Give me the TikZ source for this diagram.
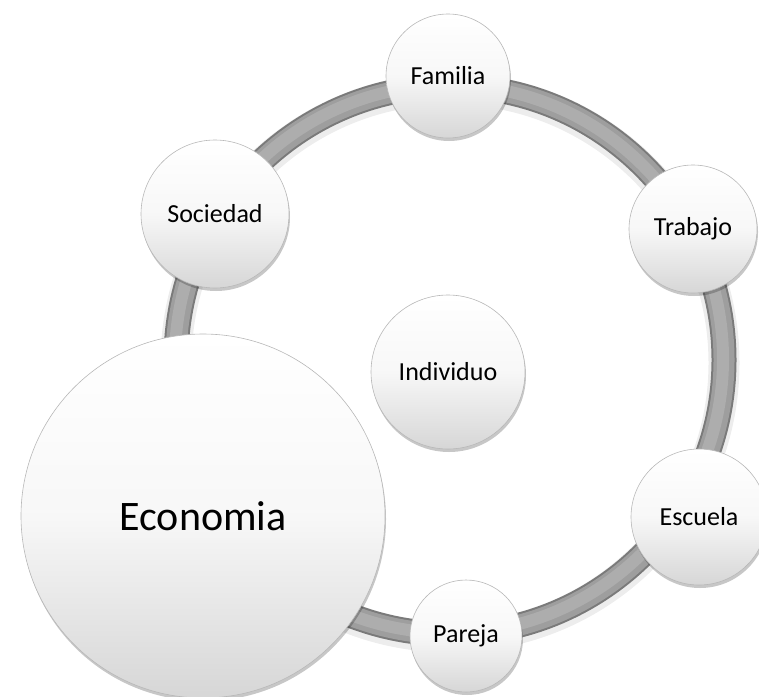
\documentclass[tikz,border=0pt]{standalone}
\usepackage{fontspec}
\setmainfont{Carlito}
\usepackage{tikz}
\usetikzlibrary{shadows}

\begin{document}
\begin{tikzpicture}[x=1pt, y=-1pt,
        bubble/.style={circle, inner sep=0pt, draw=black!28, line width=0.6pt,
            top color=white, bottom color=black!16, middle color=black!3,
            drop shadow={shadow xshift=1pt, shadow yshift=-3pt, opacity=0.22, fill=black},
            font=\fontsize{26}{31}\selectfont},
        tube/.style={line width=#1}]
        \clip (0,0) rectangle (759,696);
        \coordinate (hub) at (450,360);
        \draw[tube=31pt, black!7] ([yshift=-3pt]hub) circle (274);
        \draw[tube=25pt, black!52] (hub) circle (274);
        \draw[tube=21pt, black!38] (hub) circle (274);
        \draw[tube=12pt, black!32] ([xshift=-1pt, yshift=1pt]hub) circle (274);
        \node[bubble, minimum size=154] (individuo) at (448,372) {Individuo};
        \node[bubble, minimum size=124] (familia) at (448,76) {Familia};
        \node[bubble, minimum size=128] (trabajo) at (693,229) {Trabajo};
        \node[bubble, minimum size=136] (escuela) at (699,517) {Escuela};
        \node[bubble, minimum size=112] (pareja) at (466,636) {Pareja};
        \node[bubble, minimum size=148] (sociedad) at (215,214) {Sociedad};
        \node[bubble, minimum size=364, font=\fontsize{42}{50}\selectfont] (economia) at (203,516) {Economia};
    \end{tikzpicture}
\end{document}
